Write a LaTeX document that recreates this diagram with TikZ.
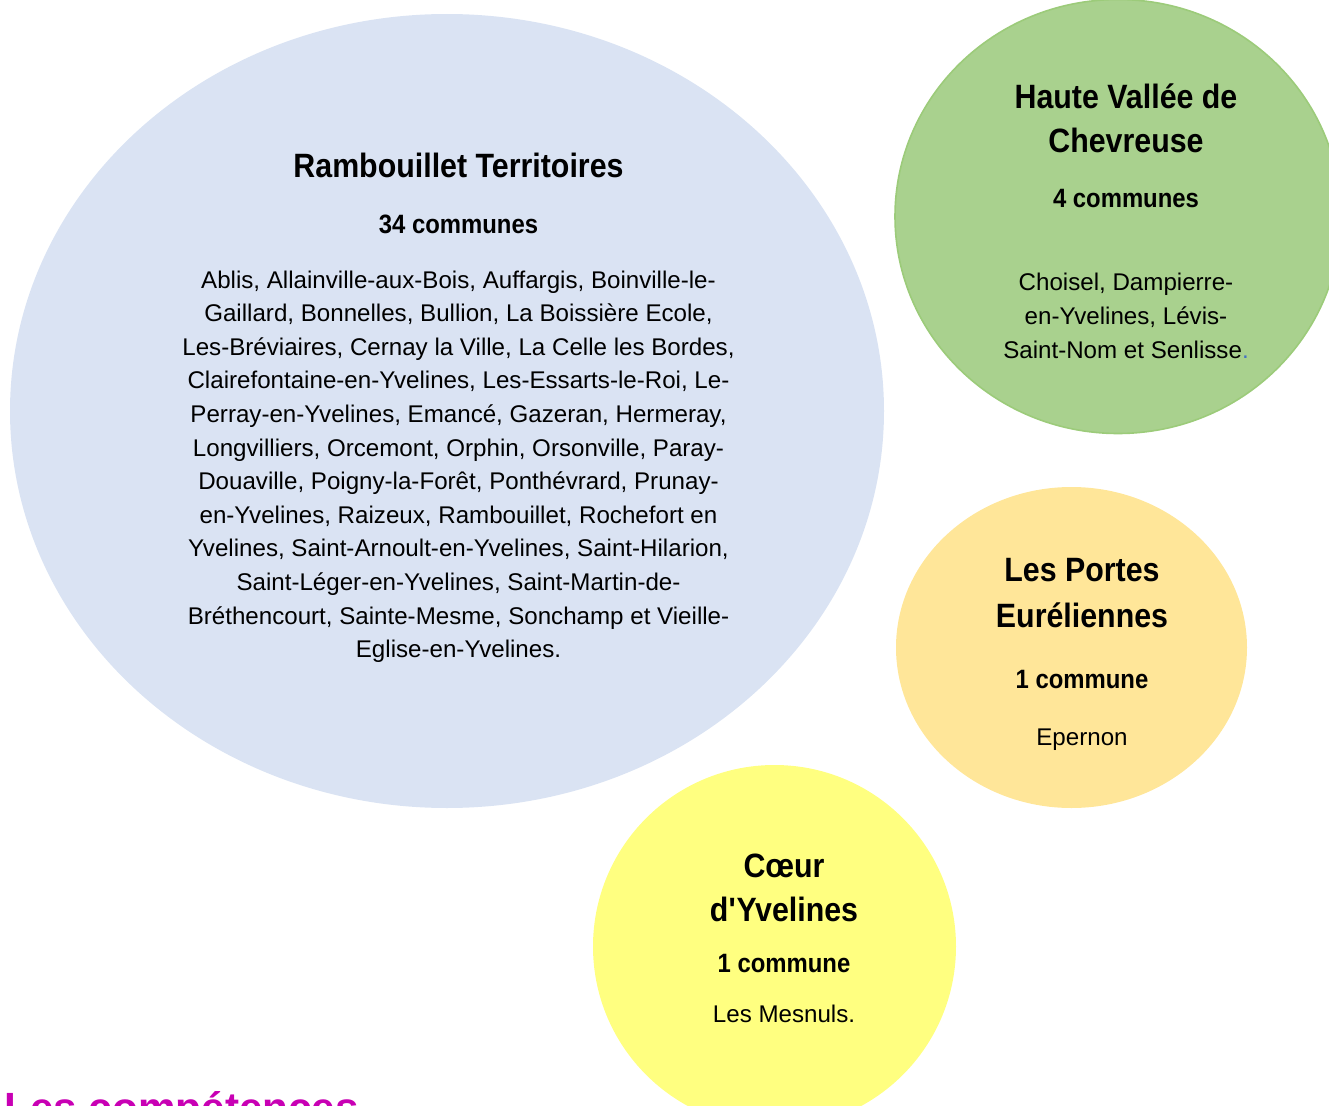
\documentclass[tikz,border=0pt]{standalone}
\usepackage{fontspec}
\usepackage{xcolor}
\usetikzlibrary{shapes.geometric}
\setmainfont{Liberation Sans}[BoldFeatures={FakeStretch=0.9}]
\newfontfamily\headfont{Liberation Sans}

\definecolor{bleuRT}{HTML}{DAE3F3}
\definecolor{vertHVC}{HTML}{A9D18E}
\definecolor{bordHVC}{HTML}{9CCB7A}
\definecolor{orangePE}{HTML}{FFE699}
\definecolor{jauneCY}{HTML}{FFFF80}
\definecolor{magentaTitre}{HTML}{C800B4}
\definecolor{pointBleu}{HTML}{4472C4}

\tikzset{
    bulle/.style={ellipse, draw=none, inner sep=0pt},
    titre/.style={anchor=base, align=center, inner sep=0pt,
        font=\bfseries\fontsize{25.3}{32.6}\selectfont},
    nombre/.style={anchor=base, align=center, inner sep=0pt,
        font=\bfseries\fontsize{19.9}{24}\selectfont},
    liste/.style={anchor=base, align=center, inner sep=0pt,
        font=\fontsize{18.1}{25.2}\selectfont}
}

\begin{document}
\begin{tikzpicture}[x=0.75pt, y=-0.75pt]
    \useasboundingbox (0,0) rectangle (1329,1106);
    \clip (0,0) rectangle (1329,1106);

    % les bulles
    \node[bulle, fill=bleuRT, minimum width=655.5pt, minimum height=595.5pt] (rt) at (447,411) {};
    \node[bulle, fill=vertHVC, draw=bordHVC, line width=1.2pt, minimum width=334.5pt, minimum height=325.5pt] (hvc) at (1118,216.5) {};
    \node[bulle, fill=orangePE, minimum width=263.25pt, minimum height=240.75pt] (pe) at (1071.5,647.5) {};
    \node[bulle, fill=jauneCY, minimum width=272.25pt, minimum height=272.25pt] (cy) at (774.5,946.5) {};

    % Rambouillet Territoires (base = derniere ligne)
    \node[titre] (rt-titre) at (458.5,177) {Rambouillet Territoires};
    \node[nombre] (rt-nb) at (458.5,233) {34 communes};
    \node[liste] (rt-liste) at (458.5,657.6) {Ablis, Allainville-aux-Bois, Auffargis, Boinville-le-\\
        Gaillard, Bonnelles, Bullion, La Boissière Ecole,\\
        Les-Bréviaires, Cernay la Ville, La Celle les Bordes,\\
        Clairefontaine-en-Yvelines, Les-Essarts-le-Roi, Le-\\
        Perray-en-Yvelines, Emancé, Gazeran, Hermeray,\\
        Longvilliers, Orcemont, Orphin, Orsonville, Paray-\\
        Douaville, Poigny-la-Forêt, Ponthévrard, Prunay-\\
        en-Yvelines, Raizeux, Rambouillet, Rochefort en\\
        Yvelines, Saint-Arnoult-en-Yvelines, Saint-Hilarion,\\
        Saint-Léger-en-Yvelines, Saint-Martin-de-\\
        Bréthencourt, Sainte-Mesme, Sonchamp et Vieille-\\
        Eglise-en-Yvelines.};

    % Haute Vallee de Chevreuse
    \node[titre] (hvc-titre) at (1126,152) {Haute Vallée de\\Chevreuse};
    \node[nombre] (hvc-nb) at (1126,207) {4 communes};
    \node[liste] (hvc-liste) at (1126,358) {Choisel, Dampierre-\\
        en-Yvelines, Lévis-\\
        Saint-Nom et Senlisse\textcolor{pointBleu}{.}};

    % Les Portes Eureliennes
    \node[titre] (pe-titre) at (1082,627) {Les Portes\\[1.5pt]Euréliennes};
    \node[nombre] (pe-nb) at (1082,688) {1 commune};
    \node[liste] (pe-liste) at (1082,745) {Epernon};

    % Coeur d'Yvelines
    \node[titre] (cy-titre) at (784,921) {Cœur\\d\textquotesingle Yvelines};
    \node[nombre] (cy-nb) at (784,972) {1 commune};
    \node[liste] (cy-liste) at (784,1022) {Les Mesnuls.};

    \node[anchor=base west, inner sep=0pt, text=magentaTitre,
        font=\headfont\bfseries\fontsize{31.7}{38}\selectfont] (competences) at (4,1122) {Les compétences};
\end{tikzpicture}
\end{document}
